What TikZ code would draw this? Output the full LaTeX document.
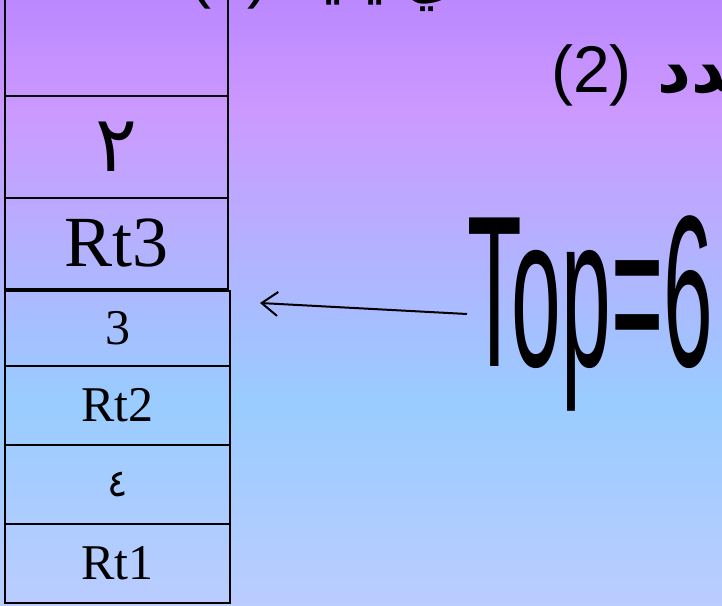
\documentclass[tikz,border=0pt]{standalone}
\usepackage{fontspec}
\setmainfont{Liberation Serif}
\newfontfamily\arabicfont[Script=Arabic]{DejaVu Sans}
\newfontfamily\headfont{Liberation Sans}
\TeXXeTstate=1
\usepackage{tikz}
\usetikzlibrary{arrows.meta, positioning}
\definecolor{bgpurple}{RGB}{187,136,255}
\definecolor{bglilac}{RGB}{204,153,255}
\definecolor{bgsky}{RGB}{153,204,255}
\definecolor{bgpale}{RGB}{187,204,255}

\begin{document}
\begin{tikzpicture}[x=1pt, y=1pt,
    cell/.style={rectangle, draw=black, line width=1.8pt, minimum width=223pt,
                 inner sep=0pt, font=\fontsize{72}{80}\selectfont},
    low/.style={cell, minimum width=225pt, font=\fontsize{50}{56}\selectfont},
    big/.style={inner sep=0pt, anchor=base west, font=\headfont\fontsize{66}{70}\selectfont},
    arr/.style={-{Straight Barb[length=16pt, width=24pt]}, line width=2pt}
]
\useasboundingbox (0,0) rectangle (722,605);
\clip (0,0) rectangle (722,605);

% background
\fill[top color=bgpurple, bottom color=bglilac] (0,605) rectangle (722,494);
\fill[top color=bglilac, bottom color=bgsky] (0,495) rectangle (722,204);
\fill[top color=bgsky, bottom color=bgpale] (0,205) rectangle (722,0);

% stack
\node[cell, minimum height=106pt] (e0)  at (116.5,562)   {};
\node[cell, minimum height=102pt] (c2)  at (116.5,458)   {\arabicfont\fontsize{78}{80}\selectfont ٢};
\node[cell, minimum height=91pt]  (rt3) at (116.5,361.5) {Rt3};
\node[low, minimum height=75pt]   (c3)  at (117.5,276.5) {3};
\node[low, minimum height=79pt]   (rt2) at (117.5,199.5) {Rt2};
\node[low, minimum height=79pt]   (c4)  at (117.5,120.5) {\arabicfont\fontsize{38}{40}\selectfont ٤};
\node[low, minimum height=79pt]   (rt1) at (117.5,41.5)  {Rt1};

% texts
\node[big] (l1) at (189,609) {(1)\ {\arabicfont\beginR الذي يليه\endR}};
\node[big] (l2) at (551,512) {(2)\hspace{26pt}{\arabicfont\bfseries\beginR عدد\endR}};

\node[inner sep=0pt, anchor=base west, xscale=0.414,
      font=\headfont\fontsize{216}{230}\selectfont] (top) at (467,238) {Top=6};

\coordinate (tip) at (260,302);
\draw[arr] (top.west) -- (tip);

\end{tikzpicture}
\end{document}
